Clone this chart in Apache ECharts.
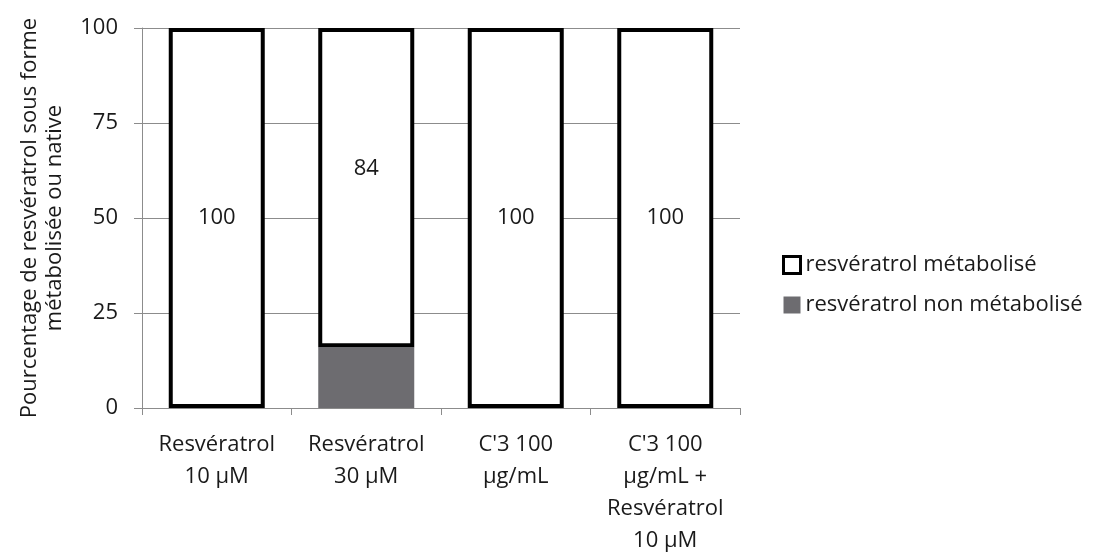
<!DOCTYPE html>
<html><head><meta charset="utf-8">
<script src="https://cdn.jsdelivr.net/npm/echarts@6/dist/echarts.min.js"></script>
<style>html,body{margin:0;padding:0;background:#fff}#c{width:1096px;height:552px}</style>
</head><body><div id="c"></div>
<script>
const categories = ["Resvératrol\n10 µM", "Resvératrol\n30 µM", "C'3 100\nµg/mL", "C'3 100\nµg/mL +\nResvératrol\n10 µM"];
const nonMetabolise = [0, 16, 0, 0];
const metabolise = [100, 84, 100, 100];
const yTicks = [0, 25, 50, 75, 100];
const seriesNames = ["resvératrol métabolisé", "resvératrol non métabolisé"];

const font = "'Open Sans', 'Noto Sans', sans-serif";
const txt = '#1a1a1a';
const fs = 22;
const chart = echarts.init(document.getElementById('c'));
chart.setOption({
  animation: false,
  textStyle: {fontFamily: font},
  grid: {left: 142, right: 356, top: 28, bottom: 144, outerBoundsMode: 'none', containLabel: false},
  legend: {
    orient: 'vertical', left: 777, top: 249, itemGap: 18, itemWidth: 17, itemHeight: 17,
    textStyle: {fontSize: fs, color: txt, fontFamily: font, lineHeight: 22},
    data: [
      {name: seriesNames[0], icon: 'rect', itemStyle: {color: '#fff', borderColor: '#000', borderWidth: 3}},
      {name: seriesNames[1], icon: 'rect', itemStyle: {color: '#6d6c70', borderWidth: 0}}
    ]
  },
  xAxis: {
    type: 'category', data: categories,
    axisLine: {lineStyle: {color: '#8c8c8c', width: 1}},
    axisTick: {show: true, length: 7, lineStyle: {color: '#8c8c8c'}},
    axisLabel: {fontSize: fs, color: txt, lineHeight: 32, margin: 21, interval: 0, fontFamily: font}
  },
  yAxis: {
    type: 'value', min: yTicks[0], max: yTicks[yTicks.length - 1], interval: 25,
    name: 'Pourcentage de resvératrol sous forme\nmétabolisée ou native',
    nameLocation: 'middle', nameGap: 75, nameRotate: 90,
    nameTextStyle: {fontSize: fs, color: txt, lineHeight: 25, fontFamily: font},
    axisLine: {show: true, lineStyle: {color: '#8c8c8c'}},
    axisTick: {show: true, length: 8, lineStyle: {color: '#8c8c8c'}},
    axisLabel: {fontSize: fs, color: txt, margin: 24, fontFamily: font},
    splitLine: {lineStyle: {color: '#8c8c8c', width: 1}}
  },
  series: [
    {
      name: seriesNames[1], type: 'bar', stack: 's', barWidth: 96,
      data: nonMetabolise,
      itemStyle: {color: '#6d6c70'}
    },
    {
      name: seriesNames[0], type: 'bar', stack: 's', barWidth: 96,
      data: metabolise.map((v, i) => i === 1 ? {value: v, label: {offset: [0, -19]}} : v),
      itemStyle: {color: '#fff', borderColor: '#000', borderWidth: 4},
      label: {show: true, position: 'inside', fontSize: fs, color: txt, fontFamily: font}
    }
  ]
});
</script></body></html>
